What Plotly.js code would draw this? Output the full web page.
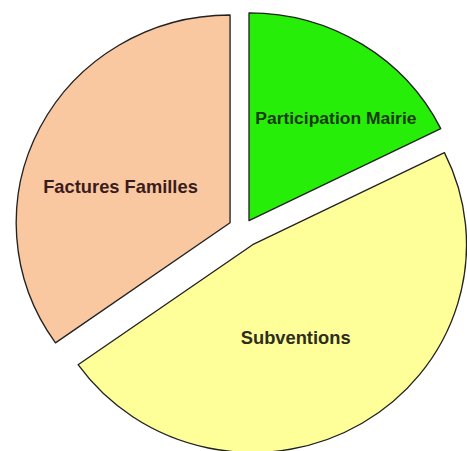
<!DOCTYPE html>
<html>
<head>
<meta charset="utf-8">
<script src="https://cdn.plot.ly/plotly-3.0.1.min.js"></script>
<style>
html,body{margin:0;padding:0;background:#fff;overflow:hidden;width:467px;height:451px;}
#chart{width:462px;height:455px;transform:scale(1.029,1);transform-origin:0 0;}
</style>
</head>
<body>
<div id="chart"></div>
<script>
var labels = ["Participation Mairie", "Subventions", "Factures Familles"];
var values = [17.7, 47.5, 34.8];
var pulls = [0.05, 0.085, 0.07];
var sliceColors = ["#26ee08", "#ffff99", "#f9c8a0"];
var labelColors = ["#1c3a0c", "#2e2e1c", "#3b1c1c"];
var labelSizes = [17, 17.8, 17.8];
var labelPos = [[0.700, 0.747], [0.6135, 0.259], [0.2353, 0.594]];

var trace = {
  type: "pie",
  labels: labels,
  values: values,
  sort: false,
  direction: "clockwise",
  rotation: 0,
  pull: pulls,
  textinfo: "none",
  hoverinfo: "label+percent",
  marker: { colors: sliceColors, line: { color: "#222222", width: 1.3 } },
  showlegend: false
};

var annotations = labels.map(function (l, i) {
  return {
    text: l, x: labelPos[i][0], y: labelPos[i][1], xref: "paper", yref: "paper",
    showarrow: false, xanchor: "center", yanchor: "middle",
    font: { family: "'Liberation Sans', Arial, sans-serif", size: labelSizes[i], weight: 700, color: labelColors[i] }
  };
});

Plotly.newPlot("chart", [trace], {
  width: 462, height: 455,
  margin: { l: 11, r: 0, t: 4, b: 0 },
  paper_bgcolor: "#ffffff",
  annotations: annotations
}, { staticPlot: true });
</script>
</body>
</html>
